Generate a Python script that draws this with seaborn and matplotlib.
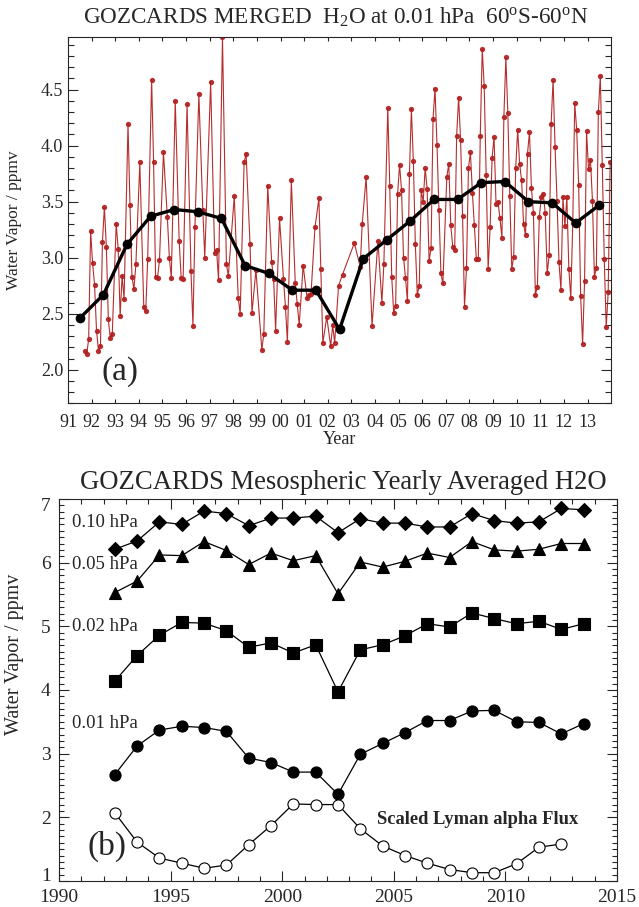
import matplotlib
matplotlib.use("Agg")
import matplotlib.pyplot as plt
from matplotlib.ticker import MultipleLocator, FormatStrFormatter
from matplotlib.transforms import ScaledTranslation
import numpy as np
import pandas as pd
import seaborn as sns

# data
# monthly 0.01 hPa values, month index counted from Jan 1991
months = [8, 9, 10, 11, 12, 13, 14, 15, 16, 17, 18, 19, 20, 21, 22, 24, 25, 26, 27, 28,
          30, 31, 32, 33, 34, 36, 38, 39, 40, 42, 43, 44, 45, 46, 48, 50, 51, 52, 54, 56,
          57, 58, 60, 62, 63, 64, 66, 68, 69, 72, 74, 75, 76, 78, 80, 81, 84, 86, 87, 89,
          90, 92, 93, 95, 98, 99, 101, 103, 104, 105, 107, 109, 110, 111, 113, 115, 116, 117, 119, 121,
          122, 123, 125, 127, 128, 129, 131, 133, 134, 135, 137, 139, 145, 148, 149, 151, 154, 157, 159, 160,
          162, 163, 164, 165, 166, 167, 168, 169, 170, 171, 172, 173, 174, 175, 176, 177, 178, 179, 180, 181,
          182, 183, 184, 185, 186, 187, 188, 189, 190, 192, 193, 194, 195, 196, 197, 198, 199, 200, 201, 202,
          203, 204, 205, 206, 207, 208, 209, 210, 211, 212, 213, 214, 215, 216, 217, 218, 219, 220, 221, 222,
          223, 224, 225, 226, 227, 228, 229, 230, 231, 232, 233, 234, 235, 236, 237, 238, 239, 240, 241, 242,
          243, 244, 245, 246, 247, 248, 249, 250, 251, 252, 253, 254, 255, 256, 257, 258, 259, 260, 261, 262,
          263, 264, 265, 266, 267, 268, 269, 270, 271, 272, 273, 274, 275]
monthly = [2.17, 2.14, 2.27, 3.24, 2.95, 2.76, 2.35, 2.17, 2.21, 3.14, 3.45, 3.10, 2.45, 2.28, 2.32, 3.30, 3.08, 2.48, 2.84, 2.63,
           4.19, 3.47, 2.83, 2.72, 2.94, 3.85, 2.56, 2.52, 2.99, 4.59, 3.85, 2.83, 2.82, 2.98, 3.94, 3.36, 3.00, 2.82, 4.40, 3.15,
           2.82, 2.81, 4.37, 2.88, 2.39, 3.27, 4.46, 3.43, 3.00, 4.57, 3.04, 3.07, 2.80, 4.97, 2.94, 2.84, 3.55, 2.64, 2.50, 3.85,
           3.93, 3.12, 2.51, 2.89, 2.18, 2.32, 3.64, 2.96, 2.81, 2.35, 3.35, 2.81, 2.56, 2.25, 3.69, 2.77, 2.59, 2.40, 2.93, 2.64,
           2.67, 2.68, 3.27, 3.53, 2.90, 2.24, 2.47, 2.21, 2.40, 2.24, 2.75, 2.85, 3.13, 2.92, 3.30, 3.72, 2.39, 3.15, 2.60, 2.94,
           4.34, 3.64, 2.83, 2.51, 2.57, 3.57, 3.83, 3.60, 3.00, 2.82, 2.61, 3.75, 4.33, 3.86, 3.12, 2.67, 2.75, 3.60, 3.50, 3.80,
           3.61, 2.97, 3.09, 4.24, 4.51, 4.01, 3.43, 2.86, 2.77, 3.72, 3.84, 3.29, 3.10, 3.07, 4.09, 4.43, 4.05, 3.37, 2.56, 2.91,
           3.80, 3.94, 3.58, 3.29, 2.99, 2.99, 4.09, 4.86, 4.53, 3.74, 2.90, 3.27, 3.89, 4.08, 3.48, 3.50, 3.35, 3.18, 4.26, 4.79,
           4.29, 3.55, 2.90, 3.01, 3.80, 4.14, 3.84, 3.69, 3.30, 3.20, 3.93, 4.12, 3.62, 3.40, 2.67, 2.74, 3.36, 3.54, 3.57, 3.40,
           2.86, 3.02, 4.19, 4.59, 3.99, 3.51, 2.96, 2.71, 3.54, 3.28, 3.54, 2.90, 2.64, 3.31, 4.38, 4.14, 3.65, 2.66, 2.23, 2.79,
           4.13, 3.79, 3.87, 3.51, 2.83, 2.91, 4.30, 4.62, 3.83, 2.99, 2.38, 2.69, 3.85]

# yearly means at 0.01 hPa, 1991-2013
years_a = list(range(1991, 2014))
mean_001 = [2.46, 2.67, 3.12, 3.37, 3.43, 3.41, 3.35, 2.93, 2.86, 2.71, 2.71, 2.36,
            2.99, 3.16, 3.33, 3.52, 3.52, 3.67, 3.68, 3.50, 3.49, 3.31, 3.47]

# panel b, 1992-2013
years_b = list(range(1992, 2014))
h2o_010 = [6.21, 6.34, 6.64, 6.60, 6.81, 6.77, 6.58, 6.70, 6.70, 6.73, 6.47, 6.69,
           6.62, 6.62, 6.56, 6.56, 6.77, 6.66, 6.62, 6.64, 6.85, 6.83]
h2o_005 = [5.53, 5.71, 6.12, 6.11, 6.33, 6.19, 5.97, 6.15, 6.03, 6.11, 5.51, 6.01,
           5.93, 6.02, 6.15, 6.08, 6.33, 6.20, 6.18, 6.21, 6.30, 6.30]
h2o_002 = [4.14, 4.54, 4.86, 5.06, 5.05, 4.93, 4.67, 4.74, 4.58, 4.71, 3.97, 4.63,
           4.71, 4.85, 5.04, 4.99, 5.21, 5.12, 5.04, 5.08, 4.95, 5.04]
h2o_001 = mean_001[1:]
years_ly = list(range(1992, 2013))
lyman = [2.07, 1.61, 1.36, 1.28, 1.20, 1.25, 1.57, 1.87, 2.21, 2.20, 2.20, 1.82,
         1.55, 1.40, 1.28, 1.18, 1.13, 1.13, 1.27, 1.53, 1.58]

sns.set_style("ticks")
plt.rcParams['font.family'] = ['Liberation Serif', 'DejaVu Serif']
plt.rcParams['mathtext.fontset'] = 'custom'
plt.rcParams['mathtext.rm'] = 'Liberation Serif'
plt.rcParams['mathtext.it'] = 'Liberation Serif:italic'

fig = plt.figure(figsize=(6.39, 9.07), dpi=100)

# ---- panel (a)
ax1 = fig.add_axes([0.1064, 0.5553, 0.850, 0.4039])
mdf = pd.DataFrame({'year': 1991 + (np.array(months) + 0.5) / 12, 'h2o': monthly})
sns.lineplot(data=mdf, x='year', y='h2o', ax=ax1, color='#b22222', lw=0.8,
             marker='o', markersize=3.8, markeredgewidth=0, alpha=0.95)
ydf = pd.DataFrame({'year': np.array(years_a) + 0.5, 'h2o': mean_001})
sns.lineplot(data=ydf, x='year', y='h2o', ax=ax1, color='black', lw=2.4,
             marker='o', markersize=7, markeredgewidth=0)
ax1.set_xlim(1991, 2014)
ax1.set_ylim(1.7, 4.97)
ax1.set_xticks(years_a)
ax1.set_xticklabels(["%02d" % (y % 100) for y in years_a])
ax1.yaxis.set_major_locator(MultipleLocator(0.5))
ax1.yaxis.set_minor_locator(MultipleLocator(0.1))
ax1.yaxis.set_major_formatter(FormatStrFormatter('%.1f'))
ax1.tick_params(which='both', direction='in', top=True, right=True, labelsize=13, width=0.8)
ax1.tick_params(axis='y', which='major', length=7)
ax1.tick_params(axis='y', which='minor', length=4)
ax1.tick_params(axis='x', which='major', length=3, pad=8)
ax1.set_xlabel('Year', fontsize=13)
ax1.xaxis.set_label_coords(0.5, -0.075)
ax1.set_ylabel('Water Vapor / ppmv', fontsize=12.5)
ax1.yaxis.set_label_coords(-0.085, 0.5)
ax1.text(1992.4, 1.98, '(a)', fontsize=24, va='center')
fig.text(0.525, 1 - 17 / 907,
         'GOZCARDS MERGED  H$_2$O at 0.01 hPa  60$^{\\rm o}$S-60$^{\\rm o}$N',
         ha='center', va='center', fontsize=16.7)

# ---- panel (b)
ax2 = fig.add_axes([0.0923, 0.0287, 0.8733, 0.4212])
series = [(years_b, h2o_010, 'D', 7, 'black'),
          (years_b, h2o_005, '^', 9, 'black'),
          (years_b, h2o_002, 's', 8, 'black'),
          (years_b, h2o_001, 'o', 8, 'black'),
          (years_ly, lyman, 'o', 8, 'white')]
for yrs, vals, mk, ms, fc in series:
    sdf = pd.DataFrame({'year': np.array(yrs) + 0.5, 'h2o': vals})
    sns.lineplot(data=sdf, x='year', y='h2o', ax=ax2, color='black', lw=0.9,
                 marker=mk, markersize=ms, markerfacecolor=fc,
                 markeredgecolor='black', markeredgewidth=0.8)
ax2.set_xlim(1990, 2015)
ax2.set_ylim(1, 7)
ax2.xaxis.set_major_locator(MultipleLocator(5))
ax2.xaxis.set_minor_locator(MultipleLocator(1))
ax2.yaxis.set_major_locator(MultipleLocator(1))
ax2.yaxis.set_minor_locator(MultipleLocator(0.1))
ax2.tick_params(which='both', direction='in', top=True, right=True, labelsize=14, width=0.8)
ax2.tick_params(which='major', length=7, pad=6)
ax2.tick_params(which='minor', length=3.5)
ax2.set_xlabel('')
ax2.set_ylabel('Water Vapor / ppmv', fontsize=14.5)
ax2.yaxis.set_label_coords(-0.063, 0.592)
for lab, yv in [('0.10 hPa', 6.63), ('0.05 hPa', 5.97), ('0.02 hPa', 5.0), ('0.01 hPa', 3.48)]:
    ax2.text(1990.6, yv, lab, fontsize=13.5, va='center')
ax2.text(2004.25, 1.96, 'Scaled Lyman alpha Flux', fontsize=13.3, fontweight='bold', va='center')
ax2.text(1991.3, 1.55, '(b)', fontsize=24, va='center')
fig.text(0.538, 1 - 483 / 907, 'GOZCARDS Mesospheric Yearly Averaged H2O',
         ha='center', va='center', fontsize=19.2)

# end labels of the y axis sit inside the axis range, as in the original
fig.canvas.draw()
for tk in ax2.yaxis.get_major_ticks():
    lab = tk.label1
    if lab.get_text() == '1':
        lab.set_transform(lab.get_transform() + ScaledTranslation(0, 0.06, fig.dpi_scale_trans))
    elif lab.get_text() == '7':
        lab.set_transform(lab.get_transform() + ScaledTranslation(0, -0.06, fig.dpi_scale_trans))

fig.savefig('out.png', dpi=100)
